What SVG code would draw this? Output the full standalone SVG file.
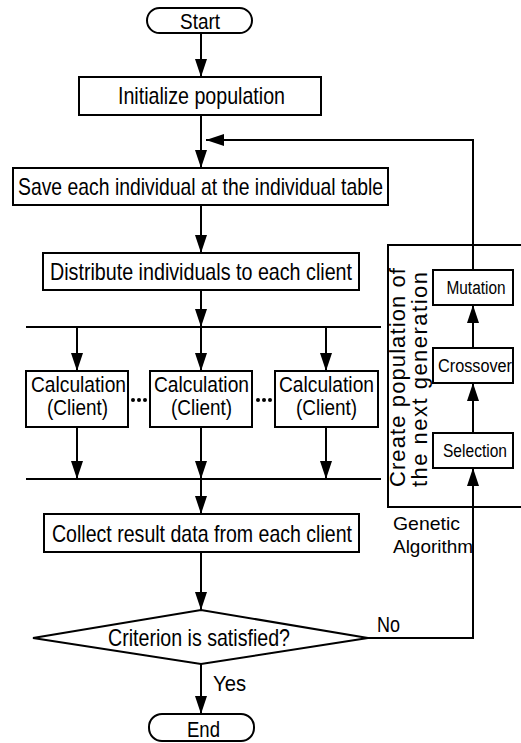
<svg xmlns="http://www.w3.org/2000/svg" width="521" height="743" viewBox="0 0 521 743">
<defs>
<marker id="ah" markerUnits="userSpaceOnUse" markerWidth="19" markerHeight="12" refX="18" refY="6" orient="auto">
<path d="M0,0 L18,6 L0,12 z" fill="#000"/>
</marker>
<style>
.b{fill:#fff;stroke:#000;stroke-width:2}
.l{fill:none;stroke:#000;stroke-width:2}
.a{fill:none;stroke:#000;stroke-width:2;marker-end:url(#ah)}
text{font-family:"Liberation Sans",Arial,sans-serif;fill:#000}
.t{font-size:24px}
.c{font-size:22px}
.m{font-size:22px}
.g{font-size:19px}
.s{font-size:18px;text-anchor:middle}
.r{font-size:22px}
</style>
</defs>
<rect width="521" height="743" fill="#fff"/>
<g id="connectors">
<line class="a" x1="201" y1="33" x2="201" y2="77"/>
<line class="a" x1="201" y1="115" x2="201" y2="168"/>
<line class="a" x1="201" y1="205" x2="201" y2="253"/>
<line class="a" x1="201" y1="290" x2="201" y2="327"/>
<line class="l" x1="26" y1="327" x2="381" y2="327"/>
<line class="a" x1="77" y1="327" x2="77" y2="371"/>
<line class="a" x1="201" y1="327" x2="201" y2="371"/>
<line class="a" x1="326" y1="327" x2="326" y2="371"/>
<line class="a" x1="77" y1="427" x2="77" y2="479"/>
<line class="a" x1="201" y1="427" x2="201" y2="479"/>
<line class="a" x1="326" y1="427" x2="326" y2="479"/>
<line class="l" x1="26" y1="479" x2="381" y2="479"/>
<line class="a" x1="201" y1="479" x2="201" y2="514"/>
<line class="a" x1="201" y1="552" x2="201" y2="610"/>
<line class="a" x1="201" y1="664" x2="201" y2="714"/>
<polyline class="a" points="368,638 473,638 473,468"/>
<line class="a" x1="473" y1="433" x2="473" y2="383"/>
<line class="a" x1="473" y1="348" x2="473" y2="305"/>
<polyline class="a" points="473,270 473,140 206,140"/>
</g>
<g id="ga-frame">
<path class="l" d="M521,245 H388 V507 H521"/>
<text class="r" transform="translate(405,487) rotate(-90)" textLength="219" lengthAdjust="spacing">Create population of</text>
<text class="r" transform="translate(427,487) rotate(-90)" textLength="215" lengthAdjust="spacing">the next generation</text>
<text class="g" x="393" y="530" textLength="67" lengthAdjust="spacingAndGlyphs">Genetic</text>
<text class="g" x="393" y="553" textLength="80" lengthAdjust="spacingAndGlyphs">Algorithm</text>
</g>
<g id="start">
<rect class="b" x="147" y="8" width="105" height="25" rx="12.5"/>
<text class="m" x="180" y="29" textLength="40" lengthAdjust="spacingAndGlyphs">Start</text>
</g>
<g id="init">
<rect class="b" x="79" y="77" width="242" height="38"/>
<text class="t" x="118" y="104" textLength="167" lengthAdjust="spacingAndGlyphs">Initialize population</text>
</g>
<g id="save">
<rect class="b" x="13" y="168" width="375" height="37"/>
<text class="t" x="18" y="195" textLength="365" lengthAdjust="spacingAndGlyphs">Save each individual at the individual table</text>
</g>
<g id="distribute">
<rect class="b" x="43" y="253" width="316" height="37"/>
<text class="t" x="50" y="280" textLength="302" lengthAdjust="spacingAndGlyphs">Distribute individuals to each client</text>
</g>
<g id="calc1">
<rect class="b" x="26" y="371" width="102" height="56"/>
<text class="c" x="31" y="392" textLength="95" lengthAdjust="spacingAndGlyphs">Calculation</text>
<text class="c" x="47" y="415" textLength="61" lengthAdjust="spacingAndGlyphs">(Client)</text>
</g>
<g id="calc2">
<rect class="b" x="150" y="371" width="102" height="56"/>
<text class="c" x="154" y="392" textLength="95" lengthAdjust="spacingAndGlyphs">Calculation</text>
<text class="c" x="171" y="415" textLength="61" lengthAdjust="spacingAndGlyphs">(Client)</text>
</g>
<g id="calc3">
<rect class="b" x="275" y="371" width="103" height="56"/>
<text class="c" x="279" y="392" textLength="95" lengthAdjust="spacingAndGlyphs">Calculation</text>
<text class="c" x="296" y="415" textLength="61" lengthAdjust="spacingAndGlyphs">(Client)</text>
</g>
<g id="dots">
<circle cx="133" cy="400" r="2"/><circle cx="139" cy="400" r="2"/><circle cx="145" cy="400" r="2"/>
<circle cx="258" cy="400" r="2"/><circle cx="264" cy="400" r="2"/><circle cx="270" cy="400" r="2"/>
</g>
<g id="collect">
<rect class="b" x="44" y="514" width="315" height="38"/>
<text class="t" x="52" y="542" textLength="300" lengthAdjust="spacingAndGlyphs">Collect result data from each client</text>
</g>
<g id="criterion">
<polygon class="b" points="33,638 201,610 368,638 201,664"/>
<text class="t" x="108" y="646" textLength="182" lengthAdjust="spacingAndGlyphs">Criterion is satisfied?</text>
</g>
<g id="labels">
<text class="m" x="377" y="632" textLength="23" lengthAdjust="spacingAndGlyphs">No</text>
<text class="m" x="213" y="691" textLength="33" lengthAdjust="spacingAndGlyphs">Yes</text>
</g>
<g id="end">
<rect class="b" x="149" y="714" width="105" height="27" rx="13"/>
<text class="m" x="187" y="737" textLength="33" lengthAdjust="spacingAndGlyphs">End</text>
</g>
<g id="mutation">
<rect class="b" x="433" y="270" width="80" height="35"/>
<text class="s" x="476" y="294" textLength="59" lengthAdjust="spacingAndGlyphs">Mutation</text>
</g>
<g id="crossover">
<rect class="b" x="433" y="348" width="80" height="35"/>
<text class="s" x="475" y="372" textLength="74" lengthAdjust="spacingAndGlyphs">Crossover</text>
</g>
<g id="selection">
<rect class="b" x="433" y="433" width="80" height="35"/>
<text class="s" x="475" y="457" textLength="64" lengthAdjust="spacingAndGlyphs">Selection</text>
</g>
</svg>
